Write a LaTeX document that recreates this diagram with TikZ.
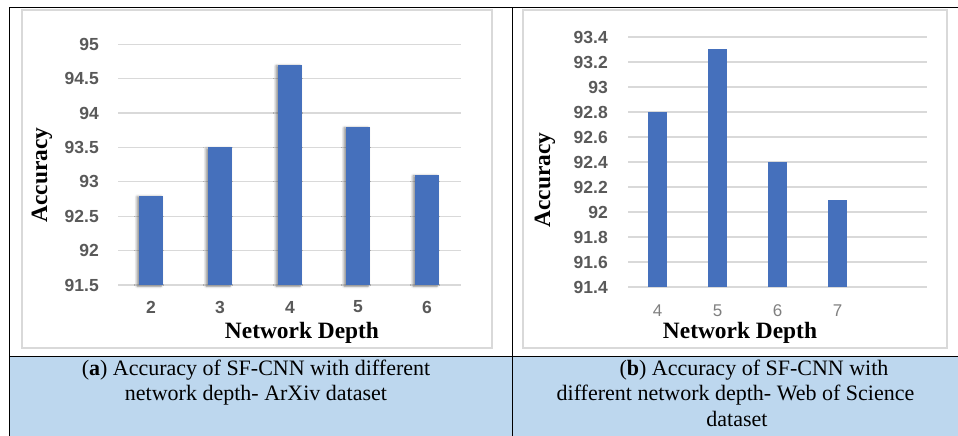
\documentclass[tikz,border=0pt]{standalone}
\usepackage{fontspec}
\setmainfont{Liberation Serif}
\newfontfamily\arialfont{Liberation Sans}
\usetikzlibrary{shadows.blur}
\definecolor{barblue}{HTML}{4570BC}
\definecolor{gridgray}{HTML}{D9D9D9}
\definecolor{tickgray}{HTML}{595959}
\definecolor{catgray}{HTML}{7F7F7F}
\definecolor{capblue}{HTML}{BDD7EE}
\tikzset{
  tablerule/.style={black, line width=1pt},
  chartframe/.style={gridgray, line width=1.5pt},
  gridline/.style={gridgray, line width=1.3pt},
  barA/.style={fill=barblue, draw=none, blur shadow={shadow xshift=-2pt, shadow yshift=-1pt, shadow blur radius=2.5pt, shadow opacity=45}},
  barB/.style={fill=barblue, draw=none},
  ticklab/.style={inner sep=0pt, anchor=east, text=tickgray, font=\arialfont\bfseries\fontsize{17.5}{17.5}\selectfont},
  ticklabB/.style={inner sep=0pt, anchor=east, text=tickgray, font=\arialfont\bfseries\fontsize{17.5}{17.5}\selectfont},
  catlabA/.style={inner sep=0pt, text=tickgray, font=\arialfont\bfseries\fontsize{17.5}{17.5}\selectfont},
  catlabB/.style={inner sep=0pt, text=catgray, font=\arialfont\fontsize{17}{17}\selectfont},
  axtitle/.style={inner sep=0pt, font=\bfseries\fontsize{23.4}{23.4}\selectfont},
  captext/.style={inner sep=0pt, anchor=base, font=\fontsize{22}{25}\selectfont},
}
\begin{document}
\begin{tikzpicture}[x=1pt,y=-1pt]
\useasboundingbox (0,0) rectangle (958,436);
% caption row background
\fill[capblue] (9,356) rectangle (958,436);
% table rules
\draw[tablerule] (958,8) -- (9,8) -- (9,436);
\draw[tablerule] (512,8) -- (512,436);
\draw[tablerule] (9,356) -- (958,356);
% chart frames
\draw[chartframe] (22,10) rectangle (492,348);
\draw[chartframe] (523,10) rectangle (947,348);

% ---------------- left chart ----------------
\foreach \yy/\lab [count=\i] in {285/91.5, 250.6/92, 216.2/92.5, 181.8/93, 147.4/93.5, 113/94, 78.6/94.5, 44.2/95}{
  \draw[gridline] (118,\yy) -- (461,\yy);
  \node[ticklab] (la\i) at (99,\yy) {\lab};
}
\foreach \cx/\top/\lab [count=\i] in {151/195.6/2, 220/147.4/3, 290/64.8/4, 358/126.8/5, 427/174.9/6}{
  \path[barA] (\cx-12,\top) rectangle (\cx+12,285);
  \node[catlabA] (ca\i) at (\cx,307) {\lab};
}
\node[axtitle] (xa) at (302,333) {Network Depth};
\node[axtitle, rotate=90] (ya) at (42,175) {Accuracy};

% ---------------- right chart ----------------
\foreach \yy/\lab [count=\i] in {287/91.4, 262/91.6, 237/91.8, 212/92, 187/92.2, 162/92.4, 137/92.6, 112/92.8, 87/93, 62/93.2, 37/93.4}{
  \draw[gridline] (628,\yy) -- (927,\yy);
  \node[ticklabB] (lb\i) at (608,\yy) {\lab};
}
\foreach \cx/\top/\lab [count=\i] in {657.5/112/4, 717.5/49.5/5, 777.5/162/6, 837.5/199.5/7}{
  \path[barB] (\cx-9.5,\top) rectangle (\cx+9.5,287);
  \node[catlabB] (cb\i) at (\cx,311) {\lab};
}
\node[axtitle] (xb) at (740,333) {Network Depth};
\node[axtitle, rotate=90] (yb) at (545,180) {Accuracy};

% ---------------- captions ----------------
\node[captext] (capa1) at (256,375.7) {(\textbf{a}) Accuracy of SF-CNN with different};
\node[captext] (capa2) at (256,400.5) {network depth- ArXiv dataset};
\node[captext] (capb1) at (754,375.7) {(\textbf{b}) Accuracy of SF-CNN with};
\node[captext] (capb2) at (735.5,400.5) {different network depth- Web of Science};
\node[captext] (capb3) at (737,426.5) {dataset};
\end{tikzpicture}
\end{document}
